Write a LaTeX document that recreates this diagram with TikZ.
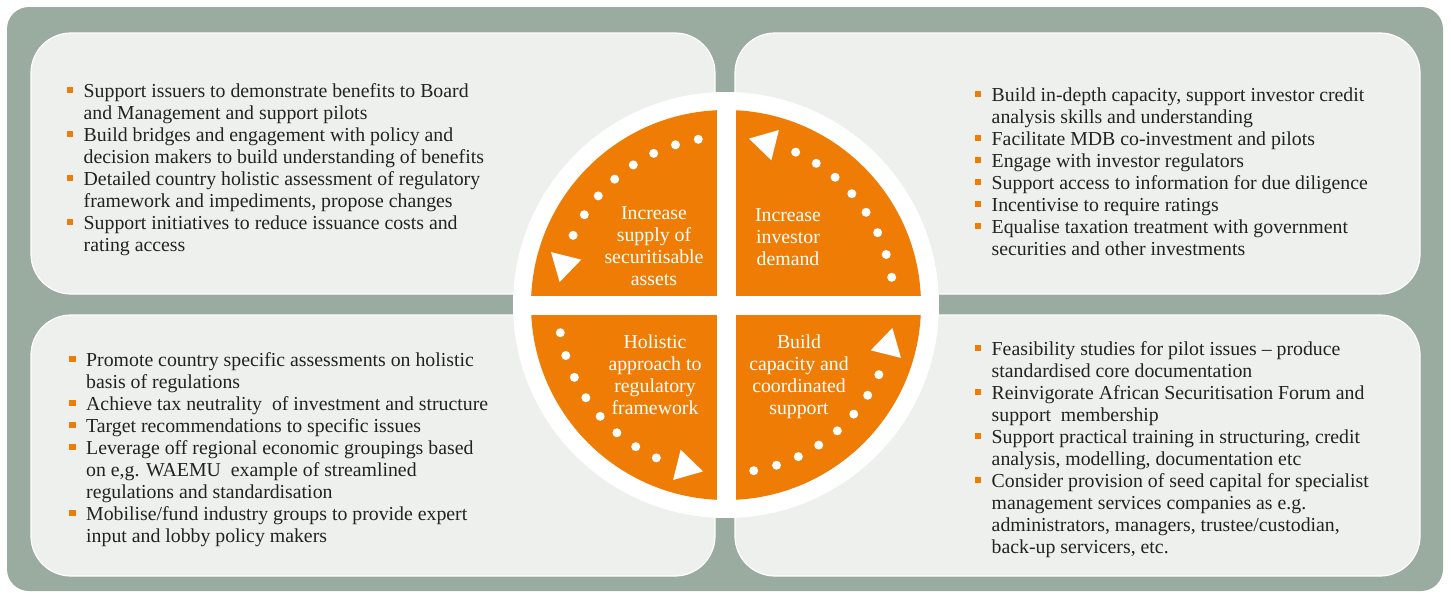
\documentclass[tikz,border=0pt]{standalone}
\usepackage{fontspec}
\setmainfont{Liberation Serif}
\usetikzlibrary{calc}
\definecolor{frame}{HTML}{9AABA0}
\definecolor{panel}{HTML}{EEF0ED}
\definecolor{wheel}{HTML}{EF7D05}
\definecolor{ink}{HTML}{222222}
\newcommand{\bul}{\textcolor{wheel}{\rule[4pt]{6.5pt}{6.5pt}}}

\begin{document}
\begin{tikzpicture}[x=1pt,y=1pt,
  font=\fontsize{19.8}{22}\selectfont,
  card/.style={fill=panel,draw=white,line width=1.2pt,rounded corners=40pt},
  items/.style={anchor=base west,inner sep=0pt,text=ink},
  label/.style={anchor=base,inner sep=0pt,text=white}]
\useasboundingbox (0,0) rectangle (1451,-592);
\fill[frame,rounded corners=22pt] (7,-7) rectangle (1443,-591);
\draw[card] (31,-33) rectangle (715,-294);
\draw[card] (735,-33) rectangle (1420,-294);
\draw[card] (31,-315) rectangle (715,-576);
\draw[card] (735,-315) rectangle (1420,-576);
\coordinate (c) at (726,-305);
\fill[white] (c) circle (213);
\fill[wheel] (c) circle (195);
\fill[white] ($(c)+(-9.5,-196)$) rectangle ($(c)+(9.5,196)$);
\fill[white] ($(c)+(-196,-9.5)$) rectangle ($(c)+(196,9.5)$);
\foreach \q in {0,90,180,270} {
  \foreach \k in {0,...,7}
    \fill[white] (c) ++({\q+9.5+8*\k}:168) circle (4.5);
  \fill[white,shift={($(c)+({\q+76}:167)$)},rotate=\q+76]
    (0,18) -- (-15.6,-9) -- (15.6,-9) -- cycle;
}
\node[label] (supply) at (654,-219) {\begin{tabular}[t]{@{}c@{}}
Increase\\ supply of\\ securitisable\\ assets\end{tabular}};
\node[label] (demand) at (788,-221) {\begin{tabular}[t]{@{}c@{}}
Increase\\ investor\\ demand\end{tabular}};
\node[label] (holistic) at (655,-348) {\begin{tabular}[t]{@{}c@{}}
Holistic\\ approach to\\ regulatory\\ framework\end{tabular}};
\node[label] (capacity) at (799,-348) {\begin{tabular}[t]{@{}c@{}}
Build\\ capacity and\\ coordinated\\ support\end{tabular}};
\node[items] (supplylist) at (66.5,-97) {\begin{tabular}[t]{@{}l@{\hspace{10.5pt}}l@{}}
\bul & Support issuers to demonstrate benefits to Board\\
 & and Management and support pilots\\
\bul & Build bridges and engagement with policy and\\
 & decision makers to build understanding of benefits\\
\bul & Detailed country holistic assessment of regulatory\\
 & framework and impediments, propose changes\\
\bul & Support initiatives to reduce issuance costs and\\
 & rating access
\end{tabular}};
\node[items] (demandlist) at (974.5,-101) {\begin{tabular}[t]{@{}l@{\hspace{10.5pt}}l@{}}
\bul & Build in-depth capacity, support investor credit\\
 & analysis skills and understanding\\
\bul & Facilitate MDB co-investment and pilots\\
\bul & Engage with investor regulators\\
\bul & Support access to information for due diligence\\
\bul & Incentivise to require ratings\\
\bul & Equalise taxation treatment with government\\
 & securities and other investments
\end{tabular}};
\node[items] (holisticlist) at (69,-366) {\begin{tabular}[t]{@{}l@{\hspace{10.5pt}}l@{}}
\bul & Promote country specific assessments on holistic\\
 & basis of regulations\\
\bul & Achieve tax neutrality\ \ of investment and structure\\
\bul & Target recommendations to specific issues\\
\bul & Leverage off regional economic groupings based\\
 & on e,g. WAEMU\ \ example of streamlined\\
 & regulations and standardisation\\
\bul & Mobilise/fund industry groups to provide expert\\
 & input and lobby policy makers
\end{tabular}};
\node[items] (capacitylist) at (974.5,-355) {\begin{tabular}[t]{@{}l@{\hspace{10.5pt}}l@{}}
\bul & Feasibility studies for pilot issues -- produce\\
 & standardised core documentation\\
\bul & Reinvigorate African Securitisation Forum and\\
 & support\ \ membership\\
\bul & Support practical training in structuring, credit\\
 & analysis, modelling, documentation etc\\
\bul & Consider provision of seed capital for specialist\\
 & management services companies as e.g.\\
 & administrators, managers, trustee/custodian,\\
 & back-up servicers, etc.
\end{tabular}};
\end{tikzpicture}
\end{document}
